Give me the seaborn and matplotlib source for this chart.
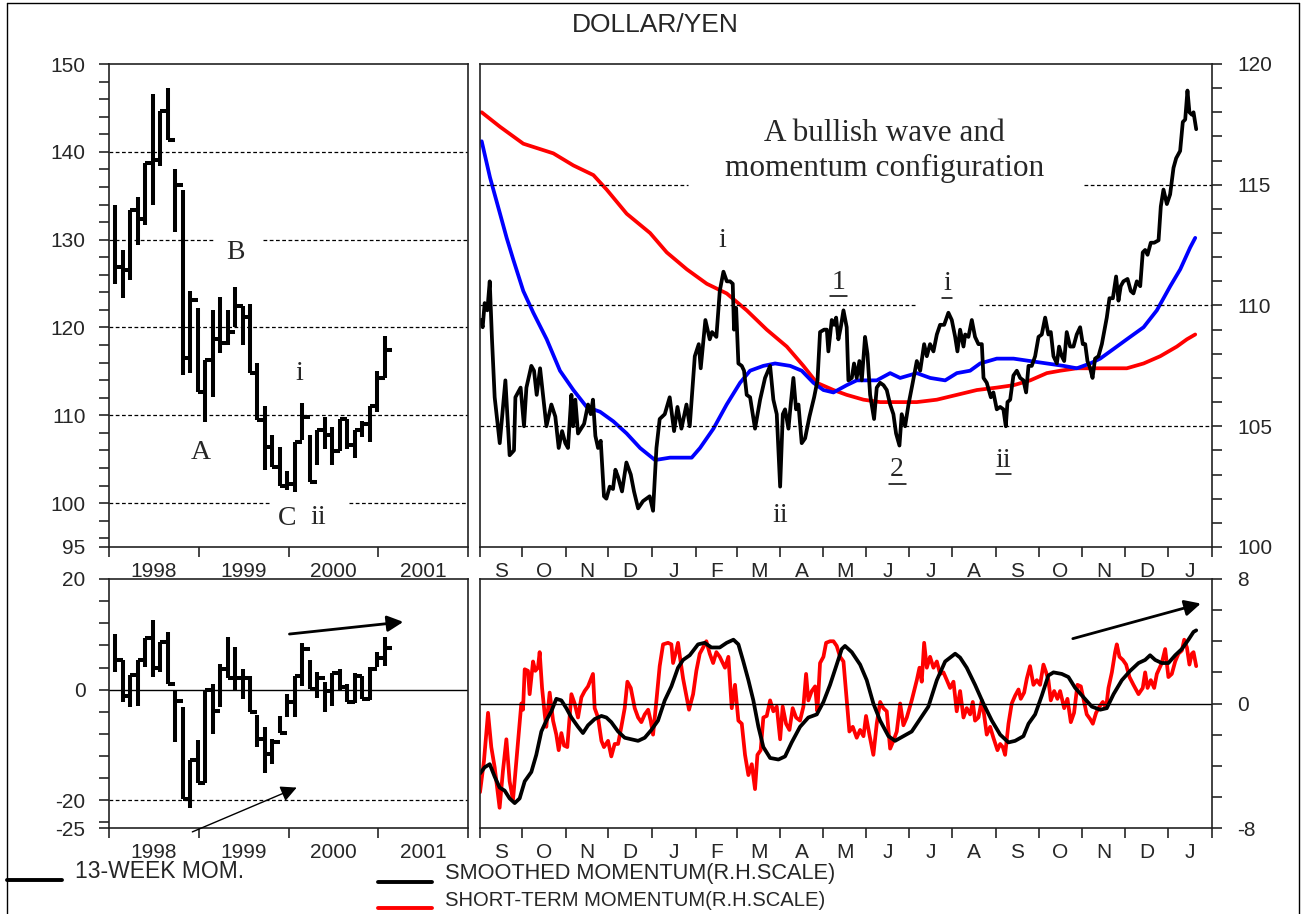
import numpy as np
import pandas as pd
import matplotlib
matplotlib.use("Agg")
import matplotlib.pyplot as plt
from matplotlib.lines import Line2D
from matplotlib.transforms import offset_copy
import seaborn as sns

sns.set_style("ticks")
plt.rcParams['font.family'] = ['Liberation Sans', 'DejaVu Sans']
plt.rcParams['axes.unicode_minus'] = False
SERIF = 'Liberation Serif'

# ---------------- monthly bars 1998-2001 (high / low / close) ----------------
bar_hi = [134.0, 128.8, 133.4, 134.9, 138.7, 146.6, 144.6, 147.3, 138.0, 135.6, 124.2, 122.2, 116.3,
          122.0, 123.5, 122.0, 124.6, 122.4, 122.7, 115.9, 111.0, 107.7, 106.4, 103.6, 107.0, 111.4,
          107.7, 108.3, 109.8, 108.7, 109.6, 109.6, 108.3, 109.4, 111.0, 115.0, 119.0]
bar_lo = [125.0, 123.3, 125.4, 129.4, 131.7, 133.9, 138.4, 141.3, 130.9, 114.6, 114.8, 112.7, 109.2,
          112.1, 117.1, 118.0, 120.1, 118.0, 114.8, 109.5, 103.8, 104.1, 102.0, 101.5, 101.3, 107.2,
          102.4, 104.3, 106.2, 104.3, 105.9, 106.2, 105.1, 107.5, 107.0, 110.4, 114.2]
bar_close = [126.9, 126.5, 133.4, 132.3, 138.7, 139.1, 144.6, 141.3, 136.2, 116.5, 123.1, 112.7, 116.3,
             118.7, 118.2, 119.5, 122.4, 121.2, 114.8, 109.5, 106.4, 104.1, 102.0, 102.2, 107.0, 109.8,
             102.4, 108.3, 107.7, 105.9, 109.6, 106.6, 108.3, 109.0, 111.0, 114.2, 117.4]

# 13-week momentum (monthly high / low / close)
mom_hi = [10.0, 5.3, 2.6, 5.3, 9.4, 12.6, 8.6, 10.4, -0.2, -3.2, -12.8, -9.1, -0.1, 1.0, 4.7, 9.6, 7.8,
          3.7, 2.5, -4.5, -6.8, -8.9, -4.7, -0.8, 2.5, 8.4, 5.3, 3.2, 1.4, 3.1, 3.8, 1.0, 3.1, 2.5, 4.1,
          6.8, 9.6]
mom_lo = [3.2, -2.3, -3.2, -3.0, 4.1, 2.3, 3.2, 1.1, -9.5, -19.8, -21.3, -16.8, -16.8, -8.0, -3.2, 2.1,
          -0.2, -1.7, -4.1, -10.4, -15.0, -13.5, -7.9, -5.0, -5.0, 0.7, 0.1, -1.5, -4.1, -3.0, -0.2,
          -2.3, -2.4, -1.7, -1.9, 4.1, 4.2]
mom_close = [5.3, -1.1, 2.6, 5.3, 9.4, 3.9, 8.6, 1.1, -2.1, -19.8, -12.8, -16.8, -0.1, -3.8, 3.7, 2.1,
             2.1, 2.1, -4.1, -8.9, -11.6, -9.5, -7.9, -2.3, 2.5, 7.4, 0.1, 2.1, -0.2, 3.1, 0.5, -2.3,
             2.5, -1.7, 3.8, 5.7, 7.5]

# ---------------- daily data, days counted from 1 Sep 1999 ----------------
px_day = [0.5, 1.9, 3.3, 5.2, 6.9, 8.5, 10.4, 14.0, 18.0, 21.0, 24.1, 25.1, 28.8, 31.2, 32.9, 36.4,
          38.3, 40.2, 42.6, 47.1, 50.6, 53.4, 55.8, 58.2, 60.5, 62.4, 64.8, 66.0, 67.6, 69.5, 73.8,
          76.6, 78.5, 80.1, 81.8, 83.7, 85.6, 87.9, 89.6, 92.0, 94.3, 96.0, 97.9, 100.7, 103.8, 106.9,
          109.2, 112.1, 115.6, 120.3, 122.7, 125.1, 127.4, 131.0, 134.5, 137.6, 140.0, 142.8, 146.4,
          148.7, 152.3, 155.1, 156.5, 159.8, 162.9, 164.5, 167.6, 170.0,
          172.6, 175.0, 177.3, 179.2, 180.1, 181.6, 183.2, 185.6, 187.2, 189.1, 191.5, 195.0, 198.6,
          202.1, 205.7, 208.0, 210.4, 212.8, 214.7, 216.3, 218.7, 220.3, 222.2, 224.1, 225.8, 228.1,
          230.5, 233.6, 236.9, 239.3, 241.1, 244.0, 245.9, 247.0, 249.4, 251.1, 252.5, 254.1, 255.8,
          257.7, 260.0, 261.2, 263.6, 265.2, 267.1, 269.0, 270.7, 273.0, 274.7, 276.6, 279.4, 281.3,
          283.7, 286.1, 288.4, 290.8, 293.1, 295.0, 297.4, 299.0, 301.4, 303.8, 306.8, 309.7, 312.1,
          314.9, 316.8, 319.1, 321.5, 323.9, 326.2, 329.1, 332.1, 334.5, 336.9, 338.5,
          340.4, 342.8, 344.0, 346.3, 348.7, 351.0, 353.4, 355.8, 357.0, 359.3, 362.2, 364.0, 366.4,
          368.8, 371.1, 372.8, 374.0, 375.9, 378.2, 380.6, 383.0, 385.3, 387.2, 388.9, 391.2, 393.6,
          396.0, 398.3, 400.7, 403.0, 404.7, 406.6, 409.0, 410.6, 412.5, 414.2, 416.0, 418.4, 420.8,
          423.1, 425.5, 427.4, 429.1, 430.7, 432.6, 434.3, 436.1, 438.5, 440.9, 442.5, 444.4, 446.3,
          448.7, 451.0, 452.7, 454.3, 456.2, 459.1, 461.4, 463.3, 465.7, 468.1, 469.9, 471.6, 473.3,
          475.6, 478.0, 481.1, 482.7, 484.6, 487.0, 489.3, 491.7, 493.6, 496.4, 498.3, 500.0, 501.6,
          503.0, 504.7, 505.9, 507.8]
px_val = [109.4, 109.1, 110.1, 109.8, 111.0, 108.6, 106.2, 104.3, 106.9, 103.8, 104.0, 106.2, 106.6,
          105.0, 106.6, 107.5, 107.3, 106.3, 107.4, 105.0, 105.9, 105.4, 104.1, 104.8, 104.3, 104.1,
          106.3, 105.0, 106.1, 104.7, 105.1, 105.9, 105.5, 106.1, 104.6, 104.1, 104.4, 102.1, 102.0,
          102.5, 102.4, 103.2, 102.9, 102.3, 103.5, 103.0, 102.3, 101.6, 101.9, 102.1, 101.5, 104.1,
          105.3, 105.5, 106.2, 104.8, 105.8, 104.9, 105.9, 105.0, 107.9, 108.4, 107.4, 109.4, 108.6,
          108.9, 108.7, 110.6,
          111.4, 111.0, 111.0, 110.9, 109.0, 109.9, 107.6, 107.5, 107.3, 106.3, 106.2, 104.9, 106.1,
          107.0, 107.5, 106.1, 105.5, 102.5, 105.5, 105.7, 104.9, 105.9, 107.0, 105.7, 105.9, 104.3,
          104.5, 105.4, 106.2, 106.9, 108.9, 109.0, 109.0, 108.1, 109.4, 109.2, 109.5, 108.6, 109.1,
          109.8, 109.1, 106.9, 107.0, 107.6, 107.0, 107.7, 106.9, 108.7, 108.0, 106.3, 105.3, 106.6,
          106.8, 106.7, 106.5, 105.9, 105.5, 104.7, 104.2, 105.5, 105.0, 105.9, 106.8, 107.7, 107.3,
          108.4, 107.9, 108.4, 108.1, 108.8, 109.2, 109.2, 109.7, 109.4, 108.7, 108.1,
          109.0, 108.3, 108.8, 108.7, 109.4, 108.7, 108.4, 108.4, 107.0, 106.8, 106.2, 106.4, 105.7,
          105.8, 105.7, 105.0, 106.0, 106.1, 107.1, 107.3, 107.0, 106.9, 106.4, 107.5, 107.5, 107.9,
          108.7, 108.8, 109.5, 108.8, 108.9, 107.9, 107.6, 108.3, 107.9, 107.7, 108.9, 108.3, 108.3,
          108.8, 109.1, 108.4, 108.4, 107.7, 107.4, 107.0, 107.8, 107.9, 108.4, 108.9, 109.5, 110.3,
          110.3, 111.2, 110.2, 110.8, 111.0, 111.1, 110.6, 110.5, 111.0, 110.8, 112.2, 112.3, 112.1,
          112.6, 112.6, 112.7, 114.1, 114.8, 114.2, 114.6, 115.7, 116.1, 116.4, 117.6, 117.7, 118.9,
          118.0, 117.9, 118.0, 117.3]

blue_day = [1.2, 7.1, 14.2, 18.9, 23.6, 30.7, 37.8, 47.3, 56.7, 66.2, 75.6, 85.1, 94.6, 104.0, 113.5,
            124.1, 134.7, 141.8, 150.1, 156.0, 165.5, 174.9, 184.4, 191.5, 200.9, 209.2, 219.9, 228.1,
            236.4, 243.5, 250.6, 260.0, 267.1, 281.3, 290.8, 297.9, 309.7, 319.2, 329.8, 338.1, 347.5,
            354.6, 366.4, 378.3, 390.1, 401.9, 413.7, 423.2, 432.6, 439.7, 449.2, 458.6, 470.5, 479.9,
            489.4, 496.5, 503.5, 507.1]
blue_val = [116.8, 115.3, 113.8, 112.8, 111.9, 110.6, 109.7, 108.6, 107.3, 106.5, 105.8, 105.6, 105.2,
            104.7, 104.1, 103.6, 103.7, 103.7, 103.7, 104.1, 104.9, 105.9, 106.8, 107.3, 107.5, 107.6,
            107.5, 107.3, 106.8, 106.5, 106.4, 106.7, 106.9, 106.9, 107.2, 107.0, 107.2, 107.0, 106.9,
            107.2, 107.3, 107.6, 107.8, 107.8, 107.7, 107.6, 107.5, 107.4, 107.6, 107.8, 108.2, 108.6,
            109.1, 109.8, 110.8, 111.5, 112.4, 112.8]

red_day = [1.2, 14.2, 30.7, 52.0, 66.2, 80.4, 89.8, 104.0, 120.6, 132.4, 146.6, 160.8, 174.9, 189.1,
           203.3, 217.5, 229.3, 238.8, 250.6, 260.0, 271.9, 283.7, 297.9, 309.7, 323.9, 338.1, 352.3,
           366.4, 378.3, 390.1, 401.9, 411.4, 423.2, 437.4, 449.2, 458.6, 470.5, 482.3, 494.1, 501.2,
           507.1]
red_val = [118.0, 117.4, 116.7, 116.3, 115.8, 115.4, 114.8, 113.8, 113.0, 112.2, 111.5, 110.9, 110.5,
           109.8, 109.0, 108.3, 107.5, 106.8, 106.5, 106.3, 106.1, 106.0, 106.0, 106.0, 106.1, 106.3,
           106.5, 106.6, 106.7, 106.9, 107.2, 107.3, 107.4, 107.4, 107.4, 107.4, 107.6, 107.9, 108.3,
           108.6, 108.8]

smooth_day = [0.0, 3.3, 6.9, 10.4, 13.9, 17.5, 21.0, 24.6, 28.1, 31.7, 36.4, 39.9, 43.5, 47.0, 50.6,
              54.1, 57.7, 61.2, 64.8, 69.5, 73.0, 76.6, 81.3, 86.1, 89.6, 93.1, 97.9, 102.6, 107.3,
              112.1, 116.8, 121.5, 126.2, 131.0, 135.7, 140.4, 144.0, 148.7, 154.6, 159.3, 164.1, 170.0,
              174.9, 179.7, 183.2, 186.7, 190.3, 193.8, 197.4, 200.9, 205.7, 211.6, 216.3, 221.0, 226.9,
              232.8, 238.8, 243.5, 248.2, 252.9, 256.5, 258.8, 263.6, 269.5, 274.2, 278.9, 283.7, 289.6,
              294.3, 300.2, 306.1, 312.0, 317.9, 323.9, 329.8, 336.9,
              340.4, 345.1, 351.0, 356.9, 362.9, 368.8, 374.7, 379.4, 385.3, 388.9, 393.6, 398.3, 403.0,
              406.6, 412.5, 417.2, 422.0, 427.9, 433.8, 439.7, 444.4, 449.2, 455.1, 461.0, 466.9, 471.6,
              475.1, 478.7, 483.4, 488.1, 492.9, 497.6, 502.3, 505.9, 507.8]
smooth_val = [-4.5, -4.1, -3.9, -4.7, -5.4, -5.6, -6.1, -6.4, -6.1, -5.0, -4.4, -3.3, -1.8, -1.1, -0.5,
              0.3, 0.2, -0.3, -0.9, -1.5, -1.9, -1.4, -1.0, -0.8, -0.9, -1.2, -1.8, -2.2, -2.3, -2.4,
              -2.2, -1.7, -1.1, 0.2, 1.1, 2.3, 2.8, 3.1, 3.8, 3.9, 3.6, 3.6,
              3.9, 4.1, 3.8, 2.7, 1.5, 0.2, -1.5, -2.8, -3.5, -3.6, -3.4, -2.5, -1.5, -0.9, -0.7, 0.1,
              1.2, 2.5, 3.5, 3.7, 3.3, 2.5, 1.5, 0.0, -1.1, -2.1, -2.4, -2.1, -1.8, -1.0, -0.2, 1.5,
              2.7, 3.2,
              2.95, 2.3, 1.2, 0.0, -1.1, -2.0, -2.5, -2.4, -2.1, -1.3, -0.7, 0.5, 1.8, 2.0, 1.9, 1.7,
              1.0, 0.4, -0.2, -0.4, -0.3, 0.6, 1.5, 2.1, 2.6, 2.8, 3.1, 2.8, 2.6, 2.6, 3.1, 3.5, 4.1,
              4.6, 4.7]

short_day = [0.0, 2.8, 5.7, 8.0, 10.4, 13.9, 16.3, 18.7, 21.0, 23.4, 25.8, 27.4, 29.3, 30.5, 31.7,
             34.0, 35.2, 37.6, 39.2, 41.1, 42.3, 44.0, 45.9, 47.0, 49.4, 51.8, 54.1, 55.8, 57.7, 59.6,
             61.9, 64.8, 67.1, 69.5, 71.9, 74.2, 76.6, 80.1, 81.3, 83.7, 86.1, 87.9, 90.8, 93.1, 95.5,
             97.9, 100.2, 102.6, 104.5, 106.9, 109.7, 112.1, 114.4, 116.8, 119.2, 121.0, 122.7, 125.1,
             127.4, 129.8, 133.3, 135.7, 136.9, 139.2, 140.4, 141.6, 144.0, 146.3, 148.2, 151.1, 153.4,
             155.8, 158.2, 160.5, 162.9, 165.3, 167.6, 170.0,
             173.7, 176.1, 178.5, 180.8, 183.2, 185.6, 187.9, 190.3, 192.7, 195.0, 196.7, 199.0, 200.9,
             203.3, 205.7, 208.0, 210.4, 212.8, 214.6, 217.0, 219.4, 221.7, 224.1, 226.9, 229.3, 231.2,
             232.8, 235.2, 237.6, 239.2, 241.1, 243.5, 245.4, 248.2, 250.6, 252.9, 255.3, 257.7, 260.0,
             261.9, 264.3, 267.1, 269.5, 271.9, 273.7, 276.1, 278.9, 281.3, 283.7, 286.0, 288.4, 290.8,
             293.1, 295.5, 297.9, 300.2, 302.6, 306.1, 309.7, 311.6, 313.2, 314.9, 316.8, 319.1, 321.5,
             323.9, 326.2, 328.6, 331.0, 333.3, 335.7, 338.0,
             340.4, 342.8, 345.1, 347.5, 349.4, 351.0, 353.4, 355.8, 357.4, 359.3, 361.7, 364.0, 366.9,
             368.8, 370.7, 372.3, 374.7, 377.0, 379.4, 381.8, 383.4, 385.8, 387.7, 390.0, 392.4, 394.8,
             397.1, 399.5, 401.4, 403.0, 404.7, 407.1, 409.4, 411.3, 414.2, 416.5, 418.9, 421.2, 423.6,
             426.0, 428.3, 430.2, 432.6, 434.5, 436.8, 439.2, 441.6, 443.9, 445.6, 448.0, 450.3, 451.5,
             453.4, 455.8, 458.1, 460.5, 463.3, 466.9, 469.9, 471.6, 473.3, 475.6, 478.0, 479.9, 483.4,
             485.8, 488.1, 490.5, 492.9, 495.2, 497.6, 499.3, 501.2, 503.0, 504.7, 505.9, 507.8]
short_val = [-5.7, -3.7, -0.6, -2.8, -4.1, -6.7, -4.3, -2.3, -5.0, -6.2, -3.7, -2.1, 0.0, -0.4, 2.2,
             2.1, 0.6, 2.7, 2.1, 2.3, 3.3, 1.0, -0.7, -1.5, 0.7, -1.1, -2.0, -3.0, -1.9, -2.7, -2.8,
             0.6, 0.0, -0.9, 0.4, 0.8, 1.1, 1.9, -0.3, -0.9, -2.4, -2.8, -2.4, -3.4, -2.6, -2.6, -1.5,
             -0.3, 1.4, 1.0, -0.3, -0.9, -1.2, -0.7, -0.4, -1.1, -2.0, 0.2, 2.4, 3.8, 3.9, 3.8, 2.6,
             3.4, 3.9, 3.1, 1.6, 0.5, -0.4, 0.6, 2.1, 3.2, 3.6, 4.0, 3.2, 2.6, 3.3, 3.0,
             2.3, 3.0, -0.3, 1.2, -1.1, -1.3, -3.3, -4.6, -3.9, -5.5, -3.3, -3.0, -0.9, -0.8, 0.2,
             -0.5, -0.2, -2.3, -0.2, -1.3, -1.7, -0.3, -0.9, -1.1, -0.2, 1.9, 0.2, 0.8, 1.1, -0.5,
             2.6, 3.0, 3.9, 4.0, 4.0, 3.7, 3.0, 2.7, 0.2, -1.8, -1.5, -2.2, -1.7, -2.1, -0.8, -2.0,
             -3.3, -1.3, 0.1, -0.3, -0.5, -2.9, -2.4, -1.8, 0.0, -1.4, -0.9, 0.2, 1.5, 2.3, 1.4, 3.9,
             2.3, 3.0, 2.3, 2.7, 1.9, 2.0, 1.5, 1.0, 1.4, -0.5,
             0.8, -0.9, -0.3, -0.7, 0.1, -1.1, -0.9, 0.2, -0.7, -2.0, -1.5, -2.2, -3.0, -2.6, -2.8,
             -3.3, -1.3, 0.0, 0.5, 0.9, 0.3, 0.7, 1.6, 2.4, 1.2, 1.5, 1.2, 2.5, 2.0, 1.5, 0.2, 0.8,
             0.3, 0.8, -0.3, 0.3, -1.2, -0.6, 1.2, 1.1, 0.1, -0.7, -1.0, -1.3, -0.6, -0.2, 0.1, -0.3,
             1.0, 2.0, 3.3, 3.8, 3.0, 2.8, 2.5, 1.7, 1.2, 0.6, 1.0, 2.0, 1.0, 1.5, 1.0, 1.9, 2.6, 3.5,
             1.7, 1.9, 2.7, 3.2, 3.4, 4.1, 3.6, 2.5, 3.2, 3.3, 2.4]

year_labels = ['1998', '1999', '2000', '2001']

# ---------------- layout ----------------
W, H = 1306, 914
fig = plt.figure(figsize=(W / 100, H / 100), dpi=100)

def box(x0, y0, x1, y1):
    return [x0 / W, 1 - y1 / H, (x1 - x0) / W, (y1 - y0) / H]

ax_tl = fig.add_axes(box(109, 64, 468, 547))
ax_tr = fig.add_axes(box(480, 64, 1212, 547))
ax_bl = fig.add_axes(box(109, 579, 468, 828))
ax_br = fig.add_axes(box(480, 579, 1212, 828))

TICK_FS = 15
LW = 2.7
dash = (0, (3, 2))

for ax in (ax_tl, ax_tr, ax_bl, ax_br):
    for s in ax.spines.values():
        s.set_linewidth(1.2)
        s.set_color('#222222')

# ---------------- left panels: monthly bars ----------------
months = pd.date_range("1998-01-01", "2001-01-01", freq="MS")
mx = months.year + (months.month - 1 + 0.85) / 12

def step_bars(ax, hi, lo, cl):
    ax.vlines(mx, lo, hi, color='k', lw=2.9)
    ax.hlines(cl, mx, mx + 1 / 12, color='k', lw=2.9)

def year_axis(ax):
    ax.set_xlim(1998, 2002)
    ax.set_xticks([1998, 1999, 2000, 2001, 2002])
    ax.set_xticklabels([])
    ax.set_xticks([1998.5, 1999.5, 2000.5, 2001.5], minor=True)
    ax.set_xticklabels(year_labels, minor=True)
    ax.tick_params(axis='x', which='major', length=7, width=1.2, direction='out')
    ax.tick_params(axis='x', which='minor', length=0, labelsize=TICK_FS, pad=11)
    ax.tick_params(axis='y', which='both', length=7, width=1.2, direction='out',
                   labelsize=TICK_FS, pad=10)

step_bars(ax_tl, bar_hi, bar_lo, bar_close)
ax_tl.set_ylim(95, 150)
ax_tl.set_yticks([95, 100, 110, 120, 130, 140, 150])
ax_tl.set_yticks(np.arange(96, 150, 2), minor=True)
year_axis(ax_tl)
ax_tl.hlines([140, 120, 110], 1998, 2002, colors='k', linestyles=dash, lw=0.9)
ax_tl.hlines([130, 130], [1998, 1999.714], [1999.159, 2002], colors='k', linestyles=dash, lw=0.9)
ax_tl.hlines([100, 100], [1998, 2000.67], [1999.789, 2002], colors='k', linestyles=dash, lw=0.9)
for txt, x, y in [('B', 1999.41, 128.5), ('A', 1999.02, 105.8), ('C', 1999.99, 98.3),
                  ('ii', 2000.33, 98.4), ('i', 2000.12, 114.8)]:
    ax_tl.text(x, y, txt, family=SERIF, fontsize=20, ha='center', va='center')

step_bars(ax_bl, mom_hi, mom_lo, mom_close)
ax_bl.set_ylim(-25, 20)
ax_bl.set_yticks([-25, -20, 0, 20])
ax_bl.set_yticks(np.arange(-24, 21, 4), minor=True)
year_axis(ax_bl)
ax_bl.axhline(0, color='k', lw=1.0)
ax_bl.hlines(-20, 1998, 2002, colors='k', linestyles=dash, lw=0.9)
ax_bl.annotate('', xy=(2001.31, 12.3), xytext=(1999.98, 10.0),
               arrowprops=dict(arrowstyle='-|>', color='k', lw=2.0, mutation_scale=24))
ax_bl.annotate('', xy=(2000.12, -17.5), xytext=(1998.9, -25.9), annotation_clip=False,
               arrowprops=dict(arrowstyle='-|>', color='k', lw=1.0, mutation_scale=24))

# ---------------- right panels: daily ----------------
start = pd.Timestamp("1999-09-01")
edges = pd.date_range("1999-09-01", "2001-02-01", freq="MS")
edge_day = np.array((edges - start).days, dtype=float)
mid_day = (edge_day[:-1] + edge_day[1:]) / 2
month_lab = [d.strftime('%b')[0] for d in edges[:-1]]

def month_axis(ax):
    ax.set_xlim(edge_day[0], edge_day[-1])
    ax.set_xticks(edge_day)
    ax.set_xticklabels([])
    ax.set_xticks(mid_day, minor=True)
    ax.set_xticklabels(month_lab, minor=True)
    ax.tick_params(axis='x', which='major', length=7, width=1.2, direction='out')
    ax.tick_params(axis='x', which='minor', length=0, labelsize=TICK_FS, pad=11)
    ax.yaxis.tick_right()
    ax.tick_params(axis='y', which='both', length=7, width=1.2, direction='out',
                   labelsize=TICK_FS, pad=11)

sns.lineplot(x=red_day, y=red_val, ax=ax_tr, color='#ff0000', lw=LW, estimator=None)
sns.lineplot(x=blue_day, y=blue_val, ax=ax_tr, color='#0000ff', lw=LW, estimator=None)
sns.lineplot(x=px_day, y=px_val, ax=ax_tr, color='k', lw=LW, estimator=None)
ax_tr.set_ylim(100, 120)
ax_tr.set_yticks([100, 105, 110, 115, 120])
ax_tr.set_yticks(np.arange(101, 120, 1), minor=True)
month_axis(ax_tr)
ax_tr.hlines(105, 0, 519, colors='k', linestyles=dash, lw=0.9)
ax_tr.hlines([110, 110], [0, 354], [310, 519], colors='k', linestyles=dash, lw=0.9)
ax_tr.hlines([115, 115], [0, 428.4], [147.5, 519], colors='k', linestyles=dash, lw=0.9)
ax_tr.text(287, 116.4, 'A bullish wave and\nmomentum configuration', family=SERIF,
           fontsize=22.5, ha='center', va='center', linespacing=1.25)

# wave labels; underlined ones get a short rule drawn just below the glyphs
under = offset_copy(ax_tr.transData, fig=fig, x=0, y=-10, units='points')
for txt, x, y, half in [('i', 171.6, 112.7, 0), ('ii', 212.8, 101.3, 0),
                        ('1', 253.9, 110.95, 6.0), ('2', 295.7, 103.2, 6.0),
                        ('i', 331.2, 110.9, 3.3), ('ii', 370.9, 103.6, 5.3)]:
    ax_tr.text(x, y, txt, family=SERIF, fontsize=20, ha='center', va='center')
    if half:
        ax_tr.plot([x - half, x + half], [y, y], color='k', lw=1.1, transform=under)

sns.lineplot(x=short_day, y=short_val, ax=ax_br, color='#ff0000', lw=LW, estimator=None)
sns.lineplot(x=smooth_day, y=smooth_val, ax=ax_br, color='k', lw=LW, estimator=None)
ax_br.set_ylim(-8, 8)
ax_br.set_yticks([-8, 0, 8])
ax_br.set_yticks(np.arange(-6, 8, 2), minor=True)
month_axis(ax_br)
ax_br.axhline(0, color='k', lw=1.0)
ax_br.annotate('', xy=(513, 6.47), xytext=(418.4, 4.12),
               arrowprops=dict(arrowstyle='-|>', color='k', lw=2.0, mutation_scale=24))

for ax in (ax_tl, ax_tr, ax_bl, ax_br):
    ax.set_xlabel('')
    ax.set_ylabel('')

# ---------------- title, legend, border ----------------
fig.text(655 / W, 1 - 25 / H, 'DOLLAR/YEN', ha='center', va='center', fontsize=19)

def fig_line(x0, x1, y, color):
    fig.add_artist(Line2D([x0 / W, x1 / W], [1 - y / H, 1 - y / H], color=color, lw=2.8,
                          transform=fig.transFigure))

fig_line(7, 62, 880, 'k')
fig.text(75 / W, 1 - 872 / H, '13-WEEK MOM.', ha='left', va='center', fontsize=16.5)
fig_line(378, 432, 882, 'k')
fig.text(445 / W, 1 - 874 / H, 'SMOOTHED MOMENTUM(R.H.SCALE)', ha='left', va='center',
         fontsize=15.7)
fig_line(378, 432, 908, '#ff0000')
fig.text(445 / W, 1 - 900 / H, 'SHORT-TERM MOMENTUM(R.H.SCALE)', ha='left', va='center',
         fontsize=14.6)

for xs, ys in [([7, 7], [3, 914]), ([1299, 1299], [3, 914]), ([7, 1299], [3, 3])]:
    fig.add_artist(Line2D([x / W for x in xs], [1 - y / H for y in ys], color='k', lw=1.0,
                          transform=fig.transFigure))

fig.savefig('out.png', dpi=100)
